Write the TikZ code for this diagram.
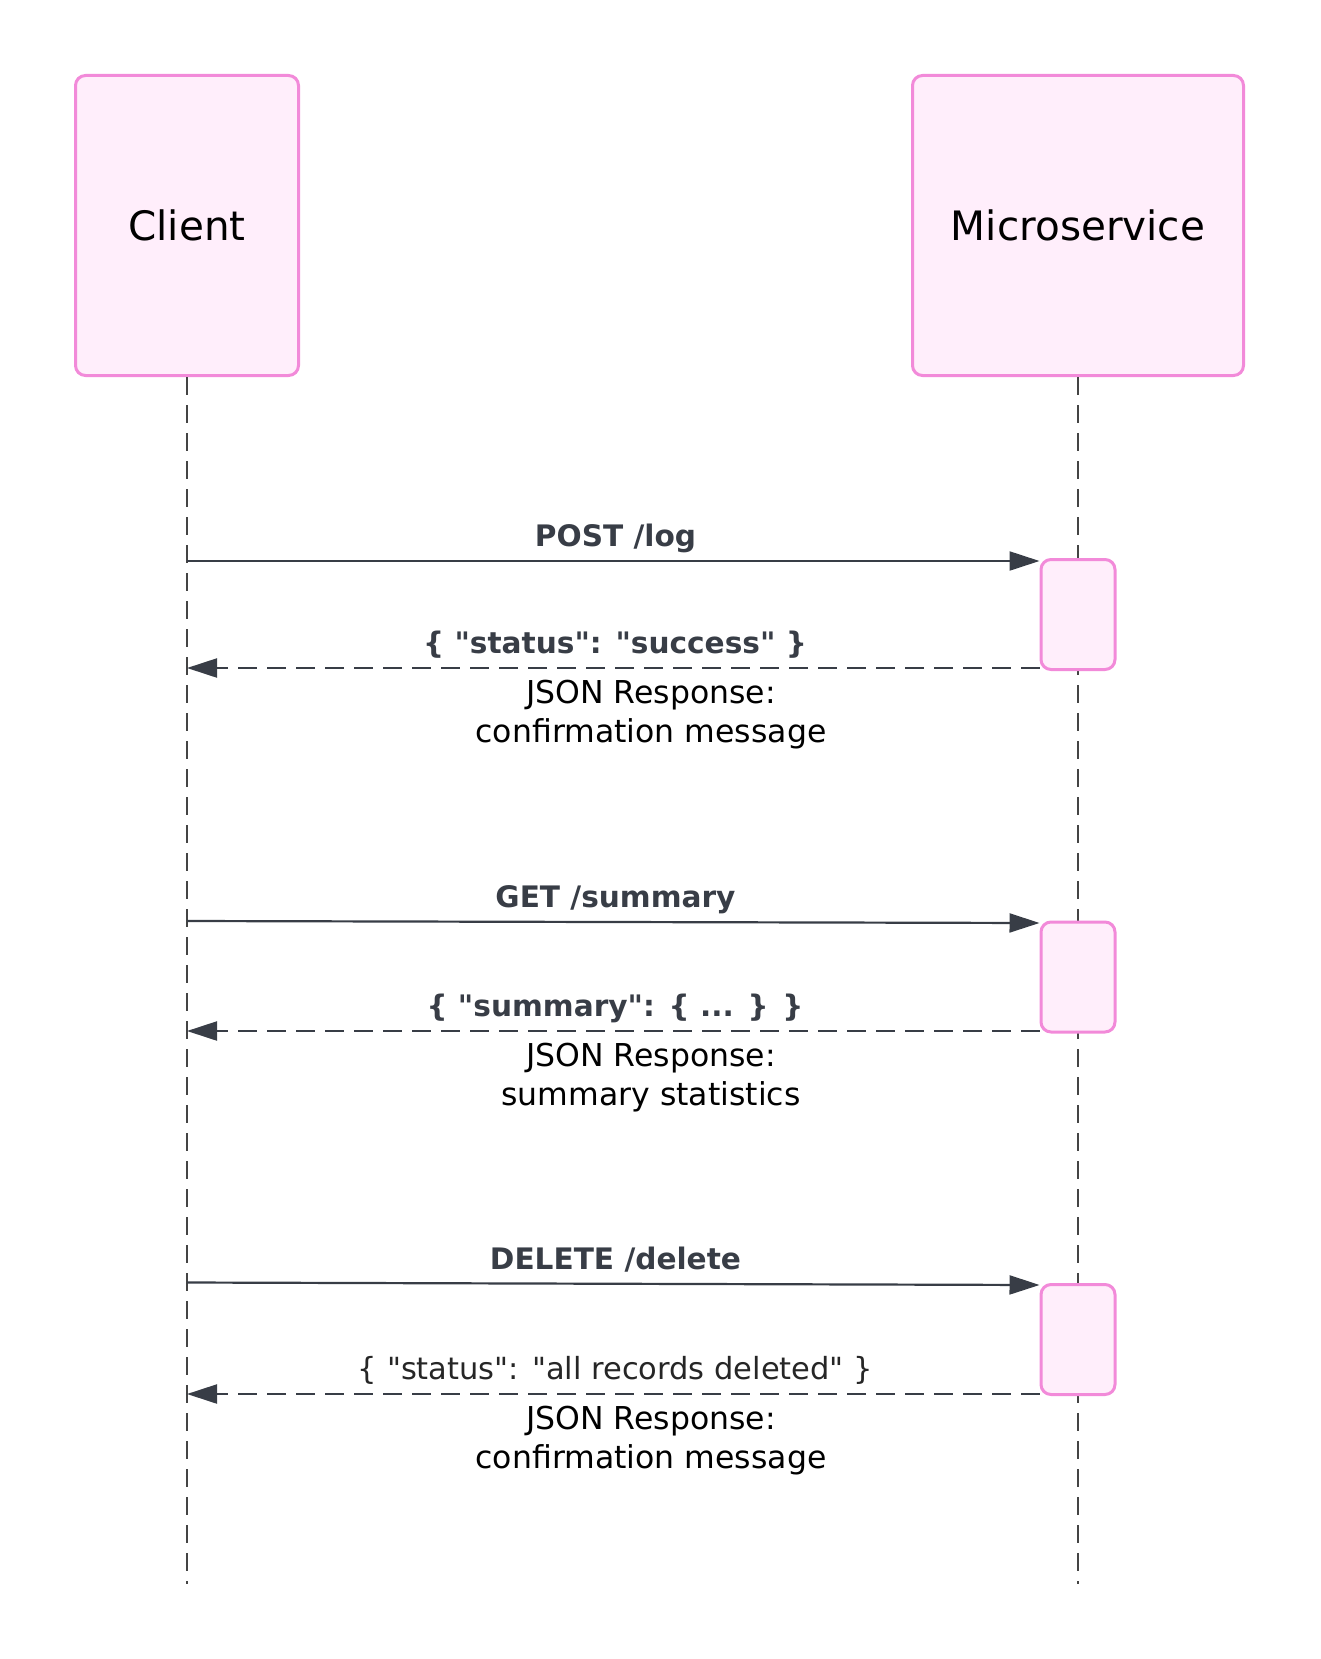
\documentclass[tikz,border=0pt]{standalone}
\usepackage{fontspec}
\setmainfont{DejaVu Sans}[Mapping=]
\usetikzlibrary{arrows.meta}
\definecolor{boxfill}{HTML}{FFEEFB}
\definecolor{boxline}{HTML}{F28AD9}
\definecolor{ink}{HTML}{383D46}
\definecolor{life}{HTML}{444444}
\newcommand{\qq}{\symbol{34}}
\begin{document}
\begin{tikzpicture}[x=1pt,y=-1pt,
  actor/.style={draw=boxline, fill=boxfill, line width=3pt, rounded corners=10pt,
    inner sep=0pt, font=\fontsize{40.5}{48}\selectfont, text=black},
  actbox/.style={draw=boxline, fill=boxfill, line width=3pt, rounded corners=10pt,
    inner sep=0pt, minimum width=74pt, minimum height=110pt},
  lifeline/.style={draw=life, line width=1.5pt, dash pattern=on 18pt off 10pt},
  msg/.style={draw=ink, line width=2.2pt, -{Triangle[length=30pt,width=19pt]}},
  ret/.style={draw=ink, line width=2.2pt, dash pattern=on 19pt off 10pt, -{Triangle[length=30pt,width=19pt]}},
  boldlab/.style={anchor=base, inner sep=0pt, text=ink, font=\fontsize{29.6}{36}\selectfont\bfseries},
  reglab/.style={anchor=base, inner sep=0pt, text=black!85, font=\fontsize{30.5}{38}\selectfont},
  note/.style={anchor=base, inner sep=0pt, text=black, font=\fontsize{31.5}{38}\selectfont}
]
\useasboundingbox (0,0) rectangle (1320,1659);

% actors
\node[actor, minimum width=223pt, minimum height=300pt] (client) at (187,225.5) {Client};
\node[actor, minimum width=331pt, minimum height=300pt] (micro) at (1078,225.5) {Microservice};

% lifelines
\coordinate (cend) at (187,1584);
\coordinate (mend) at (1078,1584);
\draw[lifeline] (client.south) -- (cend);
\draw[lifeline] (micro.south) -- (mend);

% activation boxes
\node[actbox] (a1) at (1078,614.5) {};
\node[actbox] (a2) at (1078,977) {};
\node[actbox] (a3) at (1078,1339.5) {};

% message points on the client lifeline
\coordinate (c1) at (187,561);
\coordinate (c2) at (187,921);
\coordinate (c3) at (187,1282.5);
\coordinate (r1) at (187,668);
\coordinate (r2) at (187,1031);
\coordinate (r3) at (187,1394);

% block 1
\draw[msg] (c1) -- (c1 -| a1.west);
\node[boldlab] (l1) at (615.5,546) {POST /log};
\draw[ret] (r1 -| a1.west) -- (r1);
\node[boldlab] (rl1) at (615,653) {\{ \qq status\qq: \qq success\qq\ \}};
\node[note] (n1a) at (651,703) {JSON Response:};
\node[note] (n1b) at (651,742) {confirmation message};

% block 2
\draw[msg] (c2) -- ([yshift=-2pt]c2 -| a2.west);
\node[boldlab] (l2) at (615.5,907) {GET /summary};
\draw[ret] (r2 -| a2.west) -- (r2);
\node[boldlab] (rl2) at (615,1016) {\{ \qq summary\qq: \{ ... \} \}};
\node[note] (n2a) at (651,1066) {JSON Response:};
\node[note] (n2b) at (651,1105) {summary statistics};

% block 3
\draw[msg] (c3) -- ([yshift=-2.5pt]c3 -| a3.west);
\node[boldlab] (l3) at (615.5,1269) {DELETE /delete};
\draw[ret] (r3 -| a3.west) -- (r3);
\node[reglab] (rl3) at (615.5,1379) {\{ \qq status\qq: \qq all records deleted\qq\ \}};
\node[note] (n3a) at (651,1429) {JSON Response:};
\node[note] (n3b) at (651,1468) {confirmation message};
\end{tikzpicture}
\end{document}
